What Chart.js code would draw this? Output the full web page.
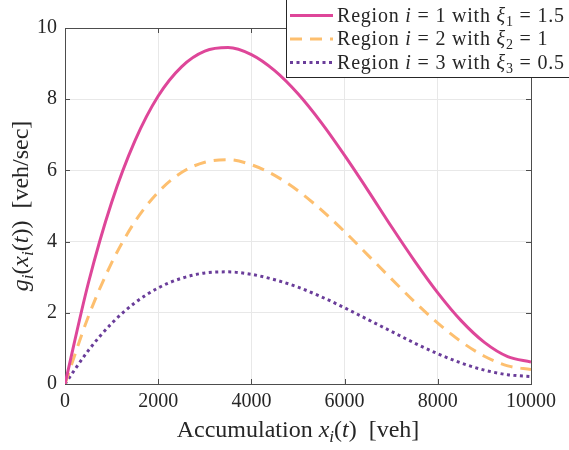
<!DOCTYPE html>
<html>
<head>
<meta charset="utf-8">
<script src="https://cdn.jsdelivr.net/npm/chart.js@4"></script>
<style>
  body { margin: 0; background: #fff; }
  #wrap { width: 569px; height: 450px; }
</style>
</head>
<body>
<div id="wrap"><canvas id="mfdChart" width="569" height="450"></canvas></div>
<script>
// accumulation in veh
const xValues = [0, 500, 1000, 1500, 2000, 2500, 3000, 3500, 4000, 4500, 5000,
  5500, 6000, 6500, 7000, 7500, 8000, 8500, 9000, 9500, 10000];
// outflow g_i in veh/sec
const region1 = [0, 2.83, 5.10, 6.83, 8.09, 8.91, 9.35, 9.45, 9.25, 8.80, 8.15,
  7.34, 6.42, 5.44, 4.43, 3.46, 2.56, 1.78, 1.17, 0.77, 0.62];
const region2 = [0, 1.89, 3.40, 4.56, 5.39, 5.94, 6.23, 6.30, 6.16, 5.86, 5.43,
  4.89, 4.28, 3.62, 2.96, 2.31, 1.71, 1.19, 0.78, 0.51, 0.41];
const region3 = [0, 0.94, 1.70, 2.28, 2.70, 2.97, 3.12, 3.15, 3.08, 2.93, 2.72,
  2.45, 2.14, 1.81, 1.48, 1.15, 0.85, 0.59, 0.39, 0.26, 0.21];
const xTicks = [0, 2000, 4000, 6000, 8000, 10000];
const yTicks = [0, 2, 4, 6, 8, 10];
const regionIds = ['1', '2', '3'];
const xiValues = ['1.5', '1', '0.5'];

const SERIF = '"Liberation Serif", "DejaVu Serif", serif';
const colors = ['#de4699', '#fdbf6f', '#6a3d9a'];
const dashes = [[], [12, 8], [3, 3.5]];

function toPoints(ys) {
  return ys.map((y, i) => ({ x: xValues[i], y: y }));
}

// text made of pieces: [text, kind] kind: n normal, i italic, s subscript, si italic subscript
function fontFor(kind, size) {
  const sub = kind === 's' || kind === 'si';
  const it = kind === 'i' || kind === 'si';
  return (it ? 'italic ' : '') + Math.round(sub ? size * 0.7 : size) + 'px ' + SERIF;
}
function richWidth(ctx, parts, size) {
  let w = 0;
  parts.forEach(p => {
    ctx.font = fontFor(p[1], size);
    w += ctx.measureText(p[0]).width;
  });
  return w;
}
function drawRich(ctx, parts, x, y, size, align) {
  let cx = x;
  if (align === 'center') cx = x - richWidth(ctx, parts, size) / 2;
  ctx.textBaseline = 'alphabetic';
  ctx.textAlign = 'left';
  parts.forEach(p => {
    ctx.font = fontFor(p[1], size);
    const sub = p[1] === 's' || p[1] === 'si';
    ctx.fillText(p[0], cx, sub ? y + size * 0.2 : y);
    cx += ctx.measureText(p[0]).width;
  });
}

const frame = {
  id: 'frame',
  beforeDatasetsDraw(chart) {
    const ctx = chart.ctx, a = chart.chartArea;
    const xs = chart.scales.x, ys = chart.scales.y;
    ctx.save();
    ctx.strokeStyle = '#4d4d4d';
    ctx.lineWidth = 1;
    ctx.beginPath();
    xTicks.forEach(t => {
      const px = Math.round(xs.getPixelForValue(t)) + 0.5;
      ctx.moveTo(px, a.bottom); ctx.lineTo(px, a.bottom - 5);
      ctx.moveTo(px, a.top); ctx.lineTo(px, a.top + 5);
    });
    yTicks.forEach(t => {
      const py = Math.round(ys.getPixelForValue(t)) + 0.5;
      ctx.moveTo(a.left, py); ctx.lineTo(a.left + 5, py);
      ctx.moveTo(a.right, py); ctx.lineTo(a.right - 5, py);
    });
    ctx.stroke();
    ctx.strokeRect(Math.round(a.left) + 0.5, Math.round(a.top) + 0.5,
      Math.round(a.right - a.left), Math.round(a.bottom - a.top));
    ctx.restore();
  },
  afterDraw(chart) {
    const ctx = chart.ctx, a = chart.chartArea;
    ctx.save();
    ctx.fillStyle = '#262626';
    // axis titles
    drawRich(ctx, [['Accumulation ', 'n'], ['x', 'i'], ['i', 'si'], ['(', 'n'], ['t', 'i'],
      [')  [veh]', 'n']], (a.left + a.right) / 2, 437, 24, 'center');
    ctx.save();
    ctx.translate(28, (a.top + a.bottom) / 2);
    ctx.rotate(-Math.PI / 2);
    drawRich(ctx, [['g', 'i'], ['i', 'si'], ['(', 'n'], ['x', 'i'], ['i', 'si'], ['(', 'n'],
      ['t', 'i'], ['))  [veh/sec]', 'n']], 0, 0, 24, 'center');
    ctx.restore();

    // legend box
    const lx = 286, lw = 300, lh = 78;
    ctx.fillStyle = '#fff';
    ctx.fillRect(lx, -1, lw, lh + 1);
    ctx.strokeStyle = '#262626';
    ctx.lineWidth = 1;
    ctx.strokeRect(lx + 0.5, -1.5, lw, lh + 1);
    ctx.letterSpacing = '0.8px';
    regionIds.forEach((id, k) => {
      const yLine = 15.5 + k * 23.5;
      ctx.beginPath();
      ctx.strokeStyle = colors[k];
      ctx.lineWidth = 3;
      ctx.setLineDash(dashes[k]);
      ctx.moveTo(290, yLine); ctx.lineTo(333, yLine);
      ctx.stroke();
      ctx.setLineDash([]);
      ctx.fillStyle = '#262626';
      drawRich(ctx, [['Region ', 'n'], ['i', 'i'], [' = ' + id + ' with ', 'n'], ['ξ', 'i'],
        [id, 's'], [' = ' + xiValues[k], 'n']], 337, yLine + 6, 20, 'left');
    });
    ctx.restore();
  }
};

const tickFont = { family: SERIF, size: 20 };

new Chart(document.getElementById('mfdChart').getContext('2d'), {
  type: 'line',
  data: {
    datasets: regionIds.map((id, k) => ({
      label: 'Region ' + id,
      data: toPoints([region1, region2, region3][k]),
      borderColor: colors[k],
      borderWidth: 3,
      borderDash: dashes[k],
      borderCapStyle: 'butt',
      pointRadius: 0,
      cubicInterpolationMode: 'monotone',
      fill: false
    }))
  },
  options: {
    responsive: false,
    animation: false,
    layout: { padding: { top: 28, right: 38, left: 0, bottom: 0 } },
    plugins: { legend: { display: false }, tooltip: { enabled: false } },
    scales: {
      x: {
        type: 'linear',
        min: 0,
        max: 10000,
        afterFit: scale => { scale.height = 66; },
        afterBuildTicks: scale => { scale.ticks = xTicks.map(v => ({ value: v })); },
        ticks: { font: tickFont, color: '#262626', padding: 6, maxRotation: 0,
          callback: v => String(v) },
        grid: { color: '#e8e8e8', drawTicks: false },
        border: { display: false }
      },
      y: {
        min: 0,
        max: 10,
        afterFit: scale => { scale.width = 65; },
        afterBuildTicks: scale => { scale.ticks = yTicks.map(v => ({ value: v })); },
        ticks: { font: tickFont, color: '#262626', padding: 8 },
        grid: { color: '#e8e8e8', drawTicks: false },
        border: { display: false }
      }
    }
  },
  plugins: [frame]
});
</script>
</body>
</html>
